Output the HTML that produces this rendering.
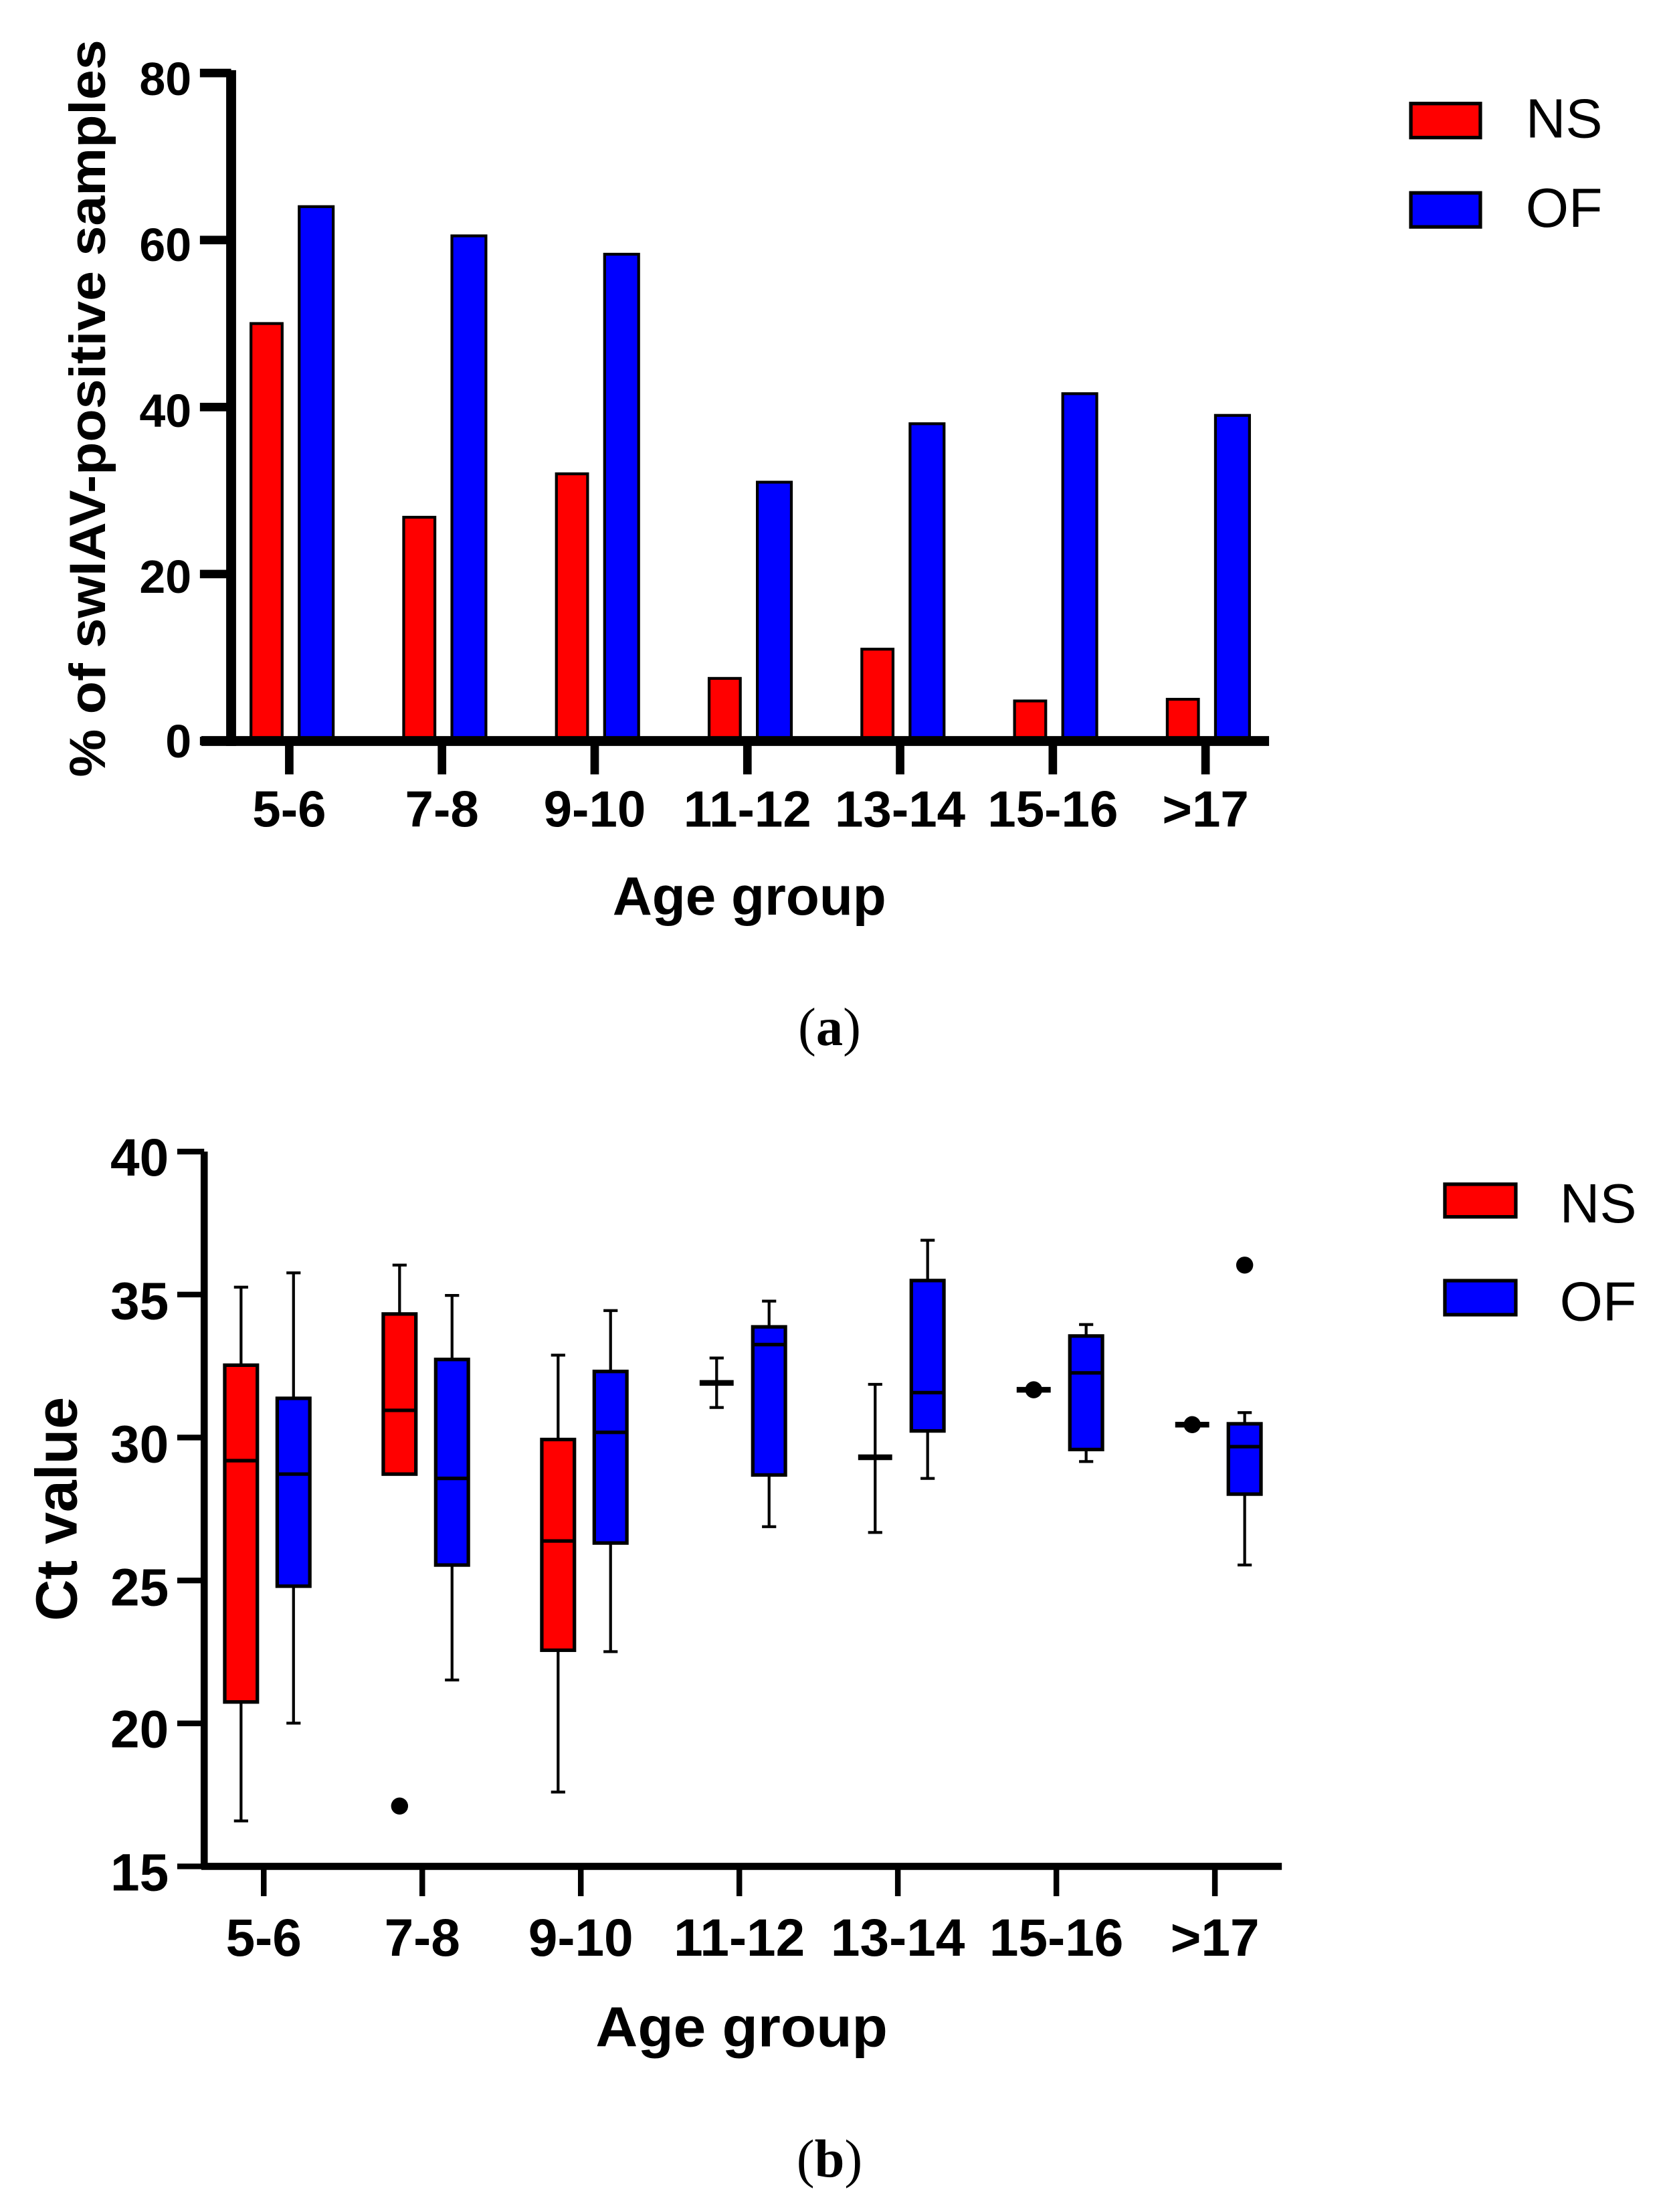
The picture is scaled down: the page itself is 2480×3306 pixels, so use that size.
<!DOCTYPE html>
<html><head><meta charset="utf-8"><style>
html,body{margin:0;padding:0;background:#fff;}
svg{display:block;}
text{font-family:"Liberation Sans",Arial,sans-serif;fill:#000;}
.b{font-weight:bold;}
</style></head><body>
<svg id="s" width="2480" height="3306" viewBox="0 0 1170 1559.7" preserveAspectRatio="none" xmlns="http://www.w3.org/2000/svg">
<rect width="1170" height="1559.7" fill="#fff"/>
<g id="g"></g>
<g class="b" font-size="33" text-anchor="end">
<text x="135" y="67" class="b">80</text>
<text x="135" y="184" class="b">60</text>
<text x="135" y="301" class="b">40</text>
<text x="135" y="418" class="b">20</text>
<text x="135" y="534" class="b">0</text>
</g>
<text class="b" font-size="36" transform="translate(74,548) rotate(-90)" textLength="520" lengthAdjust="spacingAndGlyphs">% of swIAV-positive samples</text>
<g font-size="36" text-anchor="middle">
<text class="b" x="204" y="583">5-6</text>
<text class="b" x="311.7" y="583">7-8</text>
<text class="b" x="419.4" y="583">9-10</text>
<text class="b" x="527.1" y="583">11-12</text>
<text class="b" x="634.8" y="583">13-14</text>
<text class="b" x="742.5" y="583">15-16</text>
<text class="b" x="850.2" y="583">&gt;17</text>
</g>
<text class="b" x="432" y="645" font-size="38" textLength="193" lengthAdjust="spacingAndGlyphs">Age group</text>
<text x="1076" y="97" font-size="39">NS</text>
<text x="1076" y="160" font-size="39">OF</text>
<text x="585" y="737" font-size="38" text-anchor="middle" style="font-family:'Liberation Serif',serif">(<tspan font-weight="bold" style="font-family:'Liberation Serif',serif">a</tspan>)</text>
<g font-size="37" text-anchor="end">
<text class="b" x="119" y="829">40</text>
<text class="b" x="119" y="930">35</text>
<text class="b" x="119" y="1031">30</text>
<text class="b" x="119" y="1132">25</text>
<text class="b" x="119" y="1232">20</text>
<text class="b" x="119" y="1333">15</text>
</g>
<text class="b" font-size="41" transform="translate(54,1143) rotate(-90)" textLength="158" lengthAdjust="spacingAndGlyphs">Ct value</text>
<g font-size="37" text-anchor="middle">
<text class="b" x="186" y="1379">5-6</text>
<text class="b" x="297.8" y="1379">7-8</text>
<text class="b" x="409.6" y="1379">9-10</text>
<text class="b" x="521.4" y="1379">11-12</text>
<text class="b" x="633.2" y="1379">13-14</text>
<text class="b" x="745" y="1379">15-16</text>
<text class="b" x="856.8" y="1379">&gt;17</text>
</g>
<text class="b" x="420" y="1443" font-size="40" textLength="206" lengthAdjust="spacingAndGlyphs">Age group</text>
<text x="1100" y="862" font-size="39">NS</text>
<text x="1100" y="931" font-size="39">OF</text>
<text x="585" y="1535" font-size="38" text-anchor="middle" style="font-family:'Liberation Serif',serif">(<tspan font-weight="bold" style="font-family:'Liberation Serif',serif">b</tspan>)</text>
</svg>
<script>
var g=document.getElementById('g'),h='';
function L(x1,y1,x2,y2,w){h+='<line x1="'+x1+'" y1="'+y1+'" x2="'+x2+'" y2="'+y2+'" stroke="#000" stroke-width="'+w+'"/>';}
function R(x,y,w,hh,f,sw){h+='<rect x="'+x+'" y="'+y+'" width="'+w+'" height="'+hh+'" fill="'+f+'" stroke="#000" stroke-width="'+(sw||2)+'"/>';}
var ns=[50,26.8,32,7.5,11,4.8,5],of=[64,60.5,58.3,31,38,41.6,39];
function ty(v){return 522.5-v*5.8875;}
for(var i=0;i<7;i++){var c=204+107.7*i;
R(c-27,ty(ns[i]),22,ty(0)-ty(ns[i]),'#ff0000');
R(c+7,ty(of[i]),24,ty(0)-ty(of[i]),'#0000ff');
L(c,522,c,546,6);}
L(163,49.5,163,526,7);
L(142,522.5,895,522.5,7);
[0,20,40,60,80].forEach(function(v){L(141,ty(v),163,ty(v),6);});
R(995,73,49,24,'#ff0000',2.5);R(995,136,49,24,'#0000ff',2.5);
function by(v){return 1316-(v-15)*20.16;}
var B=[
[[16.59,20.75,29.19,32.53,35.26]],[[20.01,24.80,28.72,31.37,35.76]],
[[28.72,28.72,30.95,34.32,36.03],17.11],[[21.52,25.54,28.57,32.73,34.97]],
[[17.6,22.56,26.38,29.93,32.88]],[[22.51,26.31,30.18,32.31,34.44]],
[[31.05,31.91,31.91,31.91,32.78],null,1],[[26.88,28.69,33.25,33.87,34.77]],
[[26.68,29.31,29.31,29.31,31.86],null,1],[[28.57,30.23,31.57,35.49,36.9]],
[[31.67,31.67,31.67,31.67,31.67],31.67,1],[[29.16,29.58,32.26,33.55,33.95]],
[[30.45,30.45,30.45,30.45,30.45],30.45,1],[[25.54,28.02,29.68,30.48,30.87],36.03]];
for(var i=0;i<7;i++){var c=186+111.8*i;
for(var k=0;k<2;k++){var d=B[i*2+k],x=c+(k?21:-16),q=d[0],col=k?'#0000ff':'#ff0000';
if(d[2]){ if(q[0]!=q[4]){L(x,by(q[0]),x,by(q[4]),2);L(x-5,by(q[0]),x+5,by(q[0]),2);L(x-5,by(q[4]),x+5,by(q[4]),2);}
 L(x-12,by(q[2]),x+12,by(q[2]),4);}
else{L(x,by(q[0]),x,by(q[4]),2);L(x-5,by(q[0]),x+5,by(q[0]),2);L(x-5,by(q[4]),x+5,by(q[4]),2);
 R(x-11.5,by(q[3]),23,by(q[1])-by(q[3]),col,2.5);L(x-11.5,by(q[2]),x+11.5,by(q[2]),2.5);}
if(d[1]!=null&&d[1]!==undefined)h+='<circle cx="'+x+'" cy="'+by(d[1])+'" r="6" fill="#000"/>';}
L(c,1316,c,1337,4);}
L(144,812,144,1318,5);
L(142,1316,904,1316,5);
[15,20,25,30,35,40].forEach(function(v){L(125,by(v),144,by(v),4);});
R(1019,835,50,23,'#ff0000',2.5);R(1019,903,50,24,'#0000ff',2.5);
g.innerHTML=h;
</script>
</body></html>
